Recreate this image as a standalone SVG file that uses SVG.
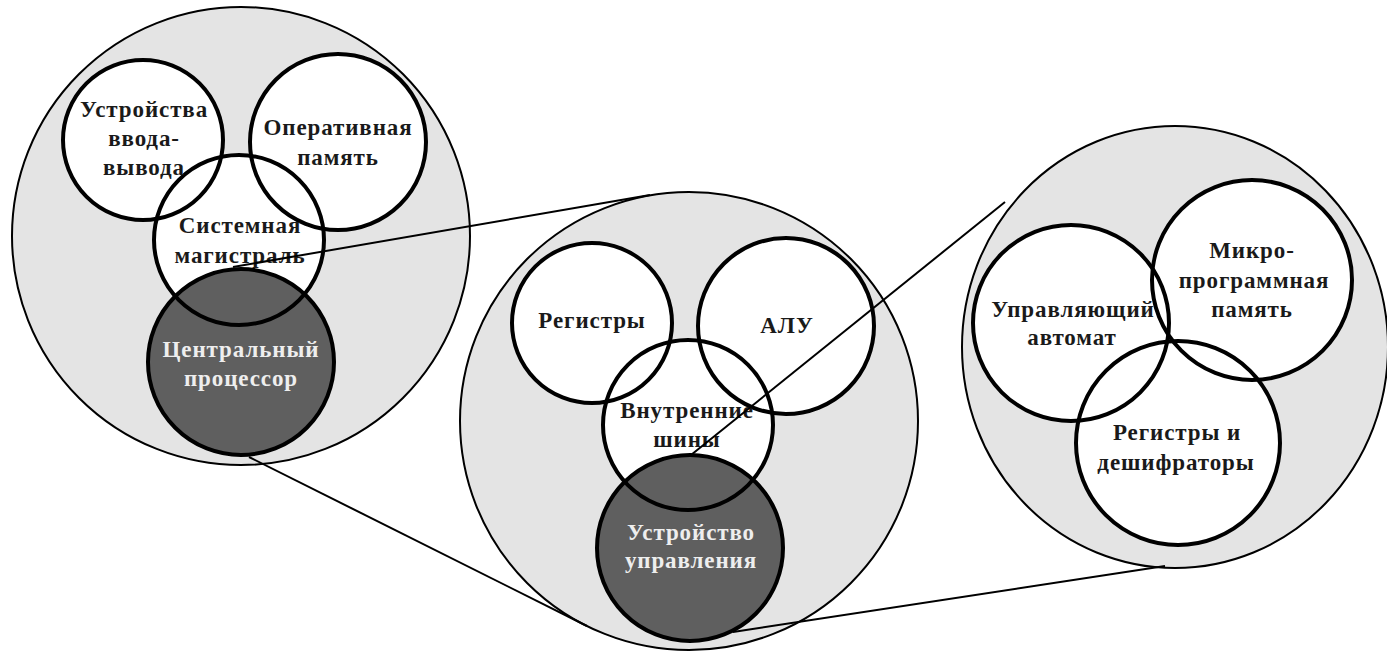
<svg xmlns="http://www.w3.org/2000/svg" width="1387" height="653" viewBox="0 0 1387 653">
<style>
.outer{fill:#e4e4e4;stroke:#000;stroke-width:2}
.inner{fill:#fff;stroke:none}
.dark{fill:#5f5f5f;stroke:none}
.ring{fill:none;stroke:#000;stroke-width:4}
.t{font-family:"Liberation Serif","Times New Roman",serif;font-weight:bold;font-size:23px;letter-spacing:0.9px;text-anchor:middle;fill:#1a1a1a}
.tw{fill:#eeeeee}
.conn{stroke:#000;stroke-width:2;fill:none}
</style>
<rect width="1387" height="653" fill="#fff"/>
<g id="system">
<circle class="outer" cx="241" cy="236" r="229"/>
<circle class="inner" cx="143" cy="140" r="80"/>
<circle class="inner" cx="338" cy="142" r="88"/>
<circle class="inner" cx="239" cy="240" r="85"/>
<circle class="dark" cx="241" cy="362" r="93"/>
<circle class="ring" cx="143" cy="140" r="80"/>
<circle class="ring" cx="338" cy="142" r="88"/>
<circle class="ring" cx="239" cy="240" r="85"/>
<circle class="ring" cx="241" cy="362" r="93"/>
</g>
<g id="cpu">
<circle class="outer" cx="689" cy="421" r="229"/>
<circle class="inner" cx="592" cy="323" r="80"/>
<circle class="inner" cx="786" cy="326" r="88"/>
<circle class="inner" cx="688" cy="425" r="85"/>
<circle class="dark" cx="690" cy="548" r="93"/>
<circle class="ring" cx="592" cy="323" r="80"/>
<circle class="ring" cx="786" cy="326" r="88"/>
<circle class="ring" cx="688" cy="425" r="85"/>
<circle class="ring" cx="690" cy="548" r="93"/>
</g>
<g id="control">
<ellipse class="outer" cx="1175" cy="347" rx="213" ry="221"/>
<circle class="inner" cx="1071" cy="323" r="98"/>
<circle class="inner" cx="1252" cy="280" r="100"/>
<circle class="inner" cx="1178" cy="443" r="102"/>
<circle class="ring" cx="1071" cy="323" r="98"/>
<circle class="ring" cx="1252" cy="280" r="100"/>
<circle class="ring" cx="1178" cy="443" r="102"/>
</g>
<g id="labels-system">
<g id="io"><text class="t" x="144" y="117">Устройства</text><text class="t" x="144" y="146">ввода-</text><text class="t" x="144" y="175">вывода</text></g>
<g id="ram"><text class="t" x="338" y="135">Оперативная</text><text class="t" x="338" y="165">память</text></g>
<g id="bus"><text class="t" x="240" y="233">Системная</text><text class="t" x="240" y="263">магистраль</text></g>
<g id="proc"><text class="t tw" x="241" y="357">Центральный</text><text class="t tw" x="241" y="386">процессор</text></g>
</g>
<g id="labels-cpu">
<g id="regs"><text class="t" x="592" y="328">Регистры</text></g>
<g id="alu"><text class="t" x="787" y="333">АЛУ</text></g>
<g id="ibus"><text class="t" x="687" y="418">Внутренние</text><text class="t" x="687" y="447">шины</text></g>
<g id="cu"><text class="t tw" x="691" y="540">Устройство</text><text class="t tw" x="691" y="568">управления</text></g>
</g>
<g id="labels-control">
<g id="mpm"><text class="t" x="1252" y="258">Микро-</text><text class="t" x="1254" y="288">программная</text><text class="t" x="1252" y="317">память</text></g>
<g id="ca"><text class="t" x="1073" y="317">Управляющий</text><text class="t" x="1072" y="345">автомат</text></g>
<g id="rd"><text class="t" x="1177" y="440">Регистры и</text><text class="t" x="1176" y="470">дешифраторы</text></g>
</g>
<g id="connectors">
<line class="conn" x1="233" y1="267" x2="650" y2="195"/>
<line class="conn" x1="249" y1="457" x2="587" y2="626"/>
<line class="conn" x1="691" y1="455" x2="1005" y2="202"/>
<line class="conn" x1="733" y1="632" x2="1165" y2="566"/>
</g>
</svg>
